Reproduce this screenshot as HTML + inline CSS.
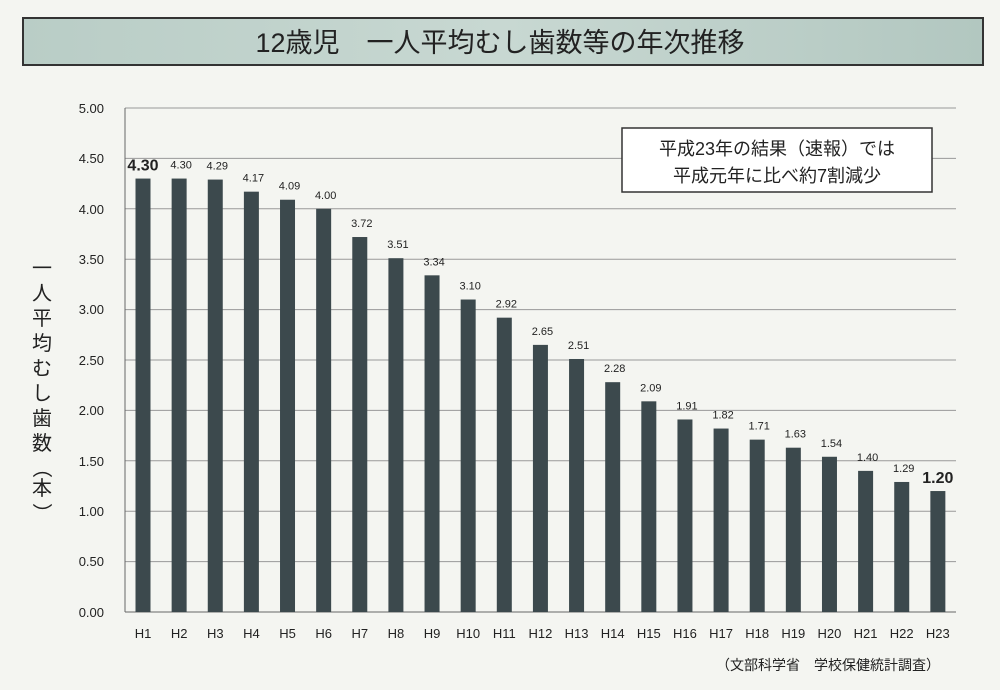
<!DOCTYPE html>
<html><head><meta charset="utf-8"><style>
body{margin:0;background:#f4f5f1;}
svg{display:block;font-family:"Liberation Sans","Noto Sans CJK JP",sans-serif;}
</style></head><body>
<svg width="1000" height="690" viewBox="0 0 1000 690" xmlns="http://www.w3.org/2000/svg">
<defs><linearGradient id="g" x1="0" x2="1"><stop offset="0" stop-color="#b9cdc6"/><stop offset="0.5" stop-color="#c8d8d2"/><stop offset="1" stop-color="#b2c7c0"/></linearGradient></defs>
<rect width="1000" height="690" fill="#f4f5f1"/>
<rect x="23" y="18" width="960" height="47" fill="url(#g)" stroke="#333" stroke-width="2"/>
<text x="500" y="52" font-size="27" text-anchor="middle" fill="#222">12歳児　一人平均むし歯数等の年次推移</text>
<g stroke="#999" stroke-width="1">
<line x1="125" y1="108" x2="956" y2="108"/><line x1="125" y1="158.4" x2="956" y2="158.4"/>
<line x1="125" y1="208.8" x2="956" y2="208.8"/><line x1="125" y1="259.2" x2="956" y2="259.2"/>
<line x1="125" y1="309.6" x2="956" y2="309.6"/><line x1="125" y1="360" x2="956" y2="360"/>
<line x1="125" y1="410.4" x2="956" y2="410.4"/><line x1="125" y1="460.8" x2="956" y2="460.8"/>
<line x1="125" y1="511.2" x2="956" y2="511.2"/><line x1="125" y1="561.6" x2="956" y2="561.6"/>
<line x1="125" y1="612" x2="956" y2="612" stroke="#666"/><line x1="125" y1="108" x2="125" y2="612" stroke="#666"/>
</g>
<g font-size="13" fill="#222" text-anchor="end">
<text x="104" y="113">5.00</text><text x="104" y="163">4.50</text><text x="104" y="214">4.00</text>
<text x="104" y="264">3.50</text><text x="104" y="314">3.00</text><text x="104" y="365">2.50</text>
<text x="104" y="415">2.00</text><text x="104" y="466">1.50</text><text x="104" y="516">1.00</text>
<text x="104" y="566">0.50</text><text x="104" y="617">0.00</text>
</g>
<g font-size="20" fill="#222" text-anchor="middle">
<text x="42" y="275">一</text><text x="42" y="300">人</text><text x="42" y="325">平</text><text x="42" y="350">均</text>
<text x="42" y="375">む</text><text x="42" y="400">し</text><text x="42" y="425">歯</text><text x="42" y="450">数</text>
<text x="42" y="475" transform="rotate(90 42 468)">（</text><text x="42" y="495">本</text><text x="42" y="520" transform="rotate(90 42 513)">）</text>
</g>
<rect x="622" y="128" width="310" height="64" fill="#fff" stroke="#333" stroke-width="1.5"/>
<text x="777" y="155" font-size="18" text-anchor="middle" fill="#222">平成23年の結果（速報）では</text>
<text x="777" y="182" font-size="18" text-anchor="middle" fill="#222">平成元年に比べ約7割減少</text>
<g id="bars" fill="#3c494d"></g>
<g id="labs" font-size="11" fill="#222" text-anchor="middle"></g>
<g id="xl" font-size="13" fill="#222" text-anchor="middle"></g>
<text x="940" y="670" font-size="14" text-anchor="end" fill="#222">（文部科学省　学校保健統計調査）</text>
<script>
var v=[4.30,4.30,4.29,4.17,4.09,4.00,3.72,3.51,3.34,3.10,2.92,2.65,2.51,2.28,2.09,1.91,1.82,1.71,1.63,1.54,1.40,1.29,1.20];
var ns="http://www.w3.org/2000/svg",b=document.getElementById('bars'),l=document.getElementById('labs'),x=document.getElementById('xl');
v.forEach(function(d,i){var cx=143+i*36.13,y=612-d*100.8;
var r=document.createElementNS(ns,'rect');r.setAttribute('x',cx-7.5);r.setAttribute('y',y);r.setAttribute('width',15);r.setAttribute('height',612-y);b.appendChild(r);
var t=document.createElementNS(ns,'text');var big=(i==0||i==22);t.setAttribute('x',big?cx:cx+2);t.setAttribute('y',y-(big?8:10));if(big){t.setAttribute('font-size','16');t.setAttribute('font-weight','bold');}t.textContent=d.toFixed(2);l.appendChild(t);
var h=document.createElementNS(ns,'text');h.setAttribute('x',cx);h.setAttribute('y',638);h.textContent='H'+(i+1);x.appendChild(h);});
</script>
</svg>
</body></html>
